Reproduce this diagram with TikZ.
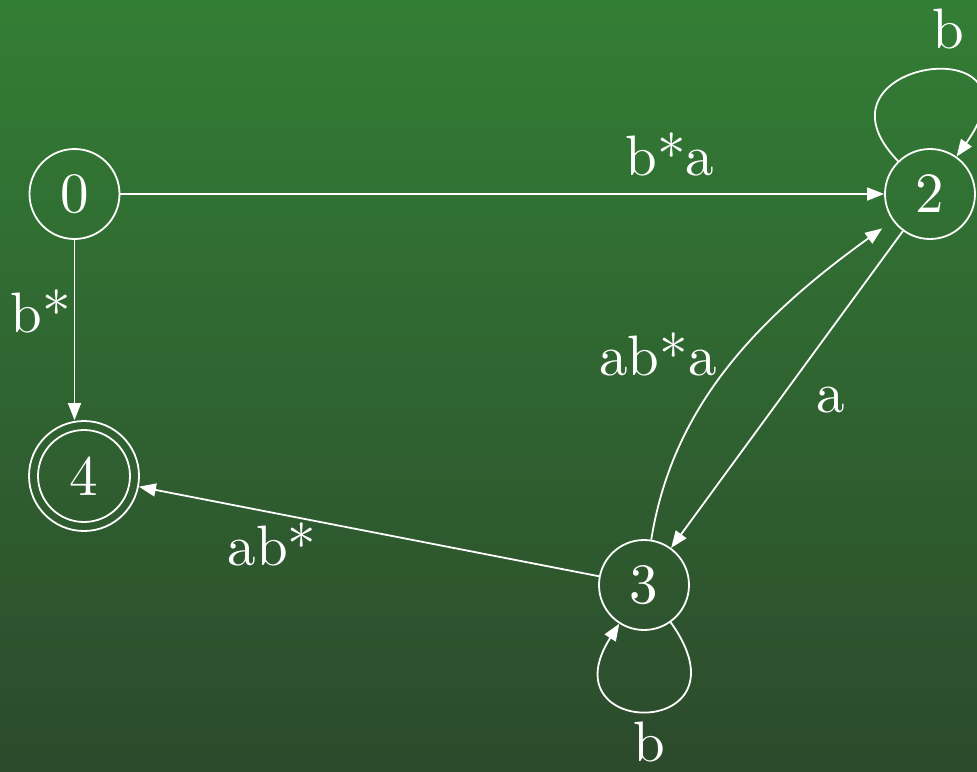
\documentclass[tikz,border=0pt]{standalone}
\usepackage{tikz}
\usetikzlibrary{arrows.meta}
\definecolor{BgTop}{RGB}{51,126,53}
\definecolor{BgBottom}{RGB}{44,74,44}
\font\statefont="[lmroman10-regular]:mapping=tex-text" at 57pt
\begin{document}
\begin{tikzpicture}[x=1pt, y=-1pt,
    every node/.style={text=white, font=\statefont},
    state/.style={draw=white, circle, line width=1.8pt, minimum size=90pt, inner sep=0pt},
    lbl/.style={anchor=base, inner sep=0pt},
    edge/.style={draw=white, line width=1.8pt, -{Triangle[length=17pt, width=13pt]}}]
    % Background
    \shade[top color=BgTop, bottom color=BgBottom] (0,0) rectangle (977,771);
    \useasboundingbox (0,0) rectangle (977,771);
    % States
    \node[state] (s0) at (74.5,194) {0};
    \node[state] (s2) at (930,194) {2};
    \node[state] (s3) at (644,585) {3};
    \node[state, minimum size=110pt] (s4) at (84,476) {};
    \node[state, minimum size=92pt] (s4in) at (s4.center) {4};
    % Labels
    \node[lbl] (l02) at (670,175) {b*a};
    \node[lbl] (l04) at (40.5,332) {b*};
    \node[lbl] (l32) at (658,375) {ab*a};
    \node[lbl] (l23) at (831,412) {a};
    \node[lbl] (l34) at (272,565) {ab*};
    \node[lbl] (l22) at (948,48) {b};
    \node[lbl] (l33) at (649,761) {b};
    % Transitions
    \draw[edge] (s0) -- (s2);
    \draw[edge] (s0) -- (s0 |- s4.north);
    \draw[edge] (s2) -- (s3);
    \draw[edge, shorten >=13pt] (s3) .. controls (672,410) and (752,322) .. (s2);
    \draw[edge] (s3) -- (s4);
    \draw[edge] (s2) .. controls (800,60) and (1050,25) .. (s2);
    \draw[edge] (s3) .. controls (755,740) and (545,740) .. (s3);
\end{tikzpicture}
\end{document}
